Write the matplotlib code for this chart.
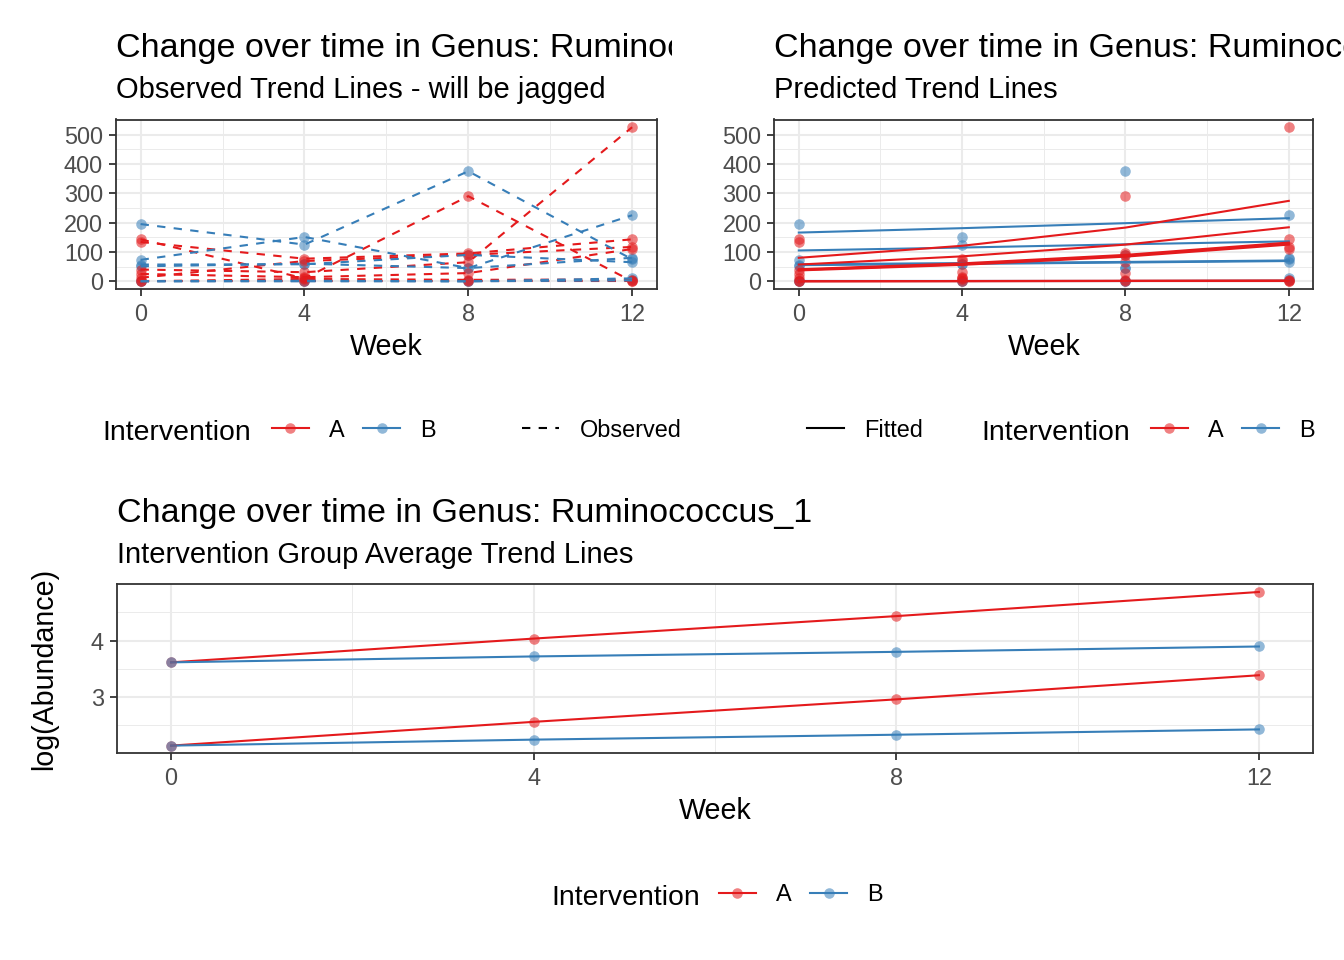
import matplotlib
matplotlib.use('Agg')
import matplotlib.pyplot as plt
from matplotlib.lines import Line2D
from matplotlib.colors import to_rgba
from matplotlib.transforms import Bbox, TransformedBbox

plt.rcParams['font.family'] = ['Liberation Sans', 'DejaVu Sans']

# ---------------- data ----------------
weeks = [0, 4, 8, 12]

# observed abundance per subject (weeks 0, 4, 8, 12)
obs_A = [
    [134, 77, 95, 143],
    [143, 10, 290, 0],
    [40, 31, 65, 525],
    [25, 14, 28, 110],
    [12, 69, 90, 117],
    [0, 8, 5, 6],
    [0, 0, 0, 0],
]
obs_B = [
    [195, 125, 375, 75],
    [73, 151, 45, 225],
    [57, 58, 90, 65],
    [51, 60, 45, 80],
    [0, 0, 0, 10],
    [0, 2, 0, 3],
]

# fitted (predicted) trend per subject
fit_A = [
    [80, 121, 183, 274],
    [57, 85, 125, 184],
    [41, 61, 90, 132],
    [39, 58, 87, 129],
    [37, 56, 84, 125],
    [0, 1, 2, 3],
    [0, 0, 1, 1],
]
fit_B = [
    [166, 181, 198, 215],
    [105, 115, 126, 136],
    [58, 62, 66, 71],
    [55, 59, 64, 69],
    [1, 1, 1, 2],
    [0, 0, 0, 0],
]

# group average trend lines (log abundance)
avg_A_high = [3.614, 4.035, 4.433, 4.860]
avg_B_high = [3.614, 3.719, 3.800, 3.895]
avg_A_low = [2.140, 2.561, 2.959, 3.386]
avg_B_low = [2.140, 2.246, 2.333, 2.427]

groups = ['A', 'B']
title_text = 'Change over time in Genus: Ruminococcus_1'
subtitles = ['Observed Trend Lines - will be jagged', 'Predicted Trend Lines',
             'Intervention Group Average Trend Lines']

# ---------------- style ----------------
W, H = 1344, 960
RED = '#E41A1C'
BLUE = '#377EB8'
PT_ALPHA = 0.55
LW = 1.5
MS = 7.6

fig = plt.figure(figsize=(W / 100, H / 100), dpi=100)


def px_axes(l, t, r, b):
    return fig.add_axes([l / W, 1 - b / H, (r - l) / W, (b - t) / H])


def style(ax, yticks, yminor):
    ax.set_xlim(-0.6, 12.6)
    ax.set_xticks(weeks)
    ax.set_xticks([2, 6, 10], minor=True)
    ax.set_yticks(yticks)
    ax.set_yticks(yminor, minor=True)
    ax.grid(True, which='major', color='#EBEBEB', lw=1.45)
    ax.grid(True, which='minor', color='#EBEBEB', lw=0.72)
    ax.set_axisbelow(True)
    for s in ax.spines.values():
        s.set_color('#333333')
        s.set_linewidth(1.3)
    ax.tick_params(which='major', direction='out', length=5.3, width=1.3,
                   color='#333333', labelcolor='#4D4D4D', labelsize=16.9)
    ax.tick_params(axis='x', which='major', pad=4.5)
    ax.tick_params(axis='y', which='major', pad=4.0)
    ax.tick_params(which='minor', length=0)
    ax.set_xlabel('Week', fontsize=20.6, labelpad=5.0)


def titles(x_px, top_px, sub, clip_right=None):
    t1 = fig.text(x_px / W, 1 - (top_px - 62.5) / H, title_text, fontsize=24.5,
                  ha='left', va='baseline', color='black')
    t2 = fig.text(x_px / W, 1 - (top_px - 21.0) / H, sub, fontsize=21.0,
                  ha='left', va='baseline', color='black')
    if clip_right is not None:
        box = TransformedBbox(Bbox([[0, 0], [clip_right / W, 1]]), fig.transFigure)
        for t in (t1, t2):
            t.set_clip_box(box)
            t.set_clip_on(True)


def key(color, kind='point'):
    if kind == 'point':
        return Line2D([], [], color=color, lw=LW, marker='o', ms=MS,
                      mfc=to_rgba(color, PT_ALPHA), mew=0)
    if kind == 'dashed':
        return Line2D([], [], color=color, lw=LW, dashes=(4, 4))
    return Line2D([], [], color=color, lw=LW)


def legend_at(handles, labels, x_px, y_px):
    leg = fig.legend(handles, labels, loc='center left',
                     bbox_to_anchor=(x_px / W, 1 - y_px / H),
                     bbox_transform=fig.transFigure, ncol=len(handles),
                     frameon=False, borderpad=0, borderaxespad=0,
                     handlelength=1.575, handletextpad=0.87, columnspacing=0.77,
                     fontsize=16.9, numpoints=1)
    return leg


def legend_title(x_px, y_px):
    fig.text(x_px / W, 1 - (y_px + 10.2) / H, 'Intervention', fontsize=20.4,
             ha='left', va='baseline', color='black')


# ---------------- top-left: observed ----------------
axTL = px_axes(116, 119.5, 656.7, 289)
for row in obs_B:
    axTL.plot(weeks, row, 'o', color=BLUE, alpha=PT_ALPHA, ms=MS, mew=0)
for row in obs_A:
    axTL.plot(weeks, row, 'o', color=RED, alpha=PT_ALPHA, ms=MS, mew=0)
for row in obs_A:
    axTL.plot(weeks, row, color=RED, lw=LW, dashes=(4, 4))
for row in obs_B:
    axTL.plot(weeks, row, color=BLUE, lw=LW, dashes=(4, 4))
style(axTL, [0, 100, 200, 300, 400, 500], [50, 150, 250, 350, 450])
titles(116, 119.5, subtitles[0], clip_right=672)

# ---------------- top-right: predicted ----------------
axTR = px_axes(774.3, 119.5, 1313.3, 289)
for row in obs_B:
    axTR.plot(weeks, row, 'o', color=BLUE, alpha=PT_ALPHA, ms=MS, mew=0)
for row in obs_A:
    axTR.plot(weeks, row, 'o', color=RED, alpha=PT_ALPHA, ms=MS, mew=0)
for row in fit_B:
    axTR.plot(weeks, row, color=BLUE, lw=LW)
for row in fit_A:
    axTR.plot(weeks, row, color=RED, lw=LW)
style(axTR, [0, 100, 200, 300, 400, 500], [50, 150, 250, 350, 450])
titles(774.3, 119.5, subtitles[1])

# ---------------- bottom: group averages ----------------
axB = px_axes(116.7, 584.3, 1313.3, 753.3)
series = [(avg_A_high, RED), (avg_B_high, BLUE), (avg_A_low, RED), (avg_B_low, BLUE)]
for vals, col in series:
    axB.plot(weeks, vals, color=col, lw=LW)
for vals, col in series:
    axB.plot(weeks, vals, 'o', color=col, alpha=PT_ALPHA, ms=MS, mew=0)
style(axB, [3, 4], [2.5, 3.5, 4.5])
axB.set_ylabel('log(Abundance)', fontsize=20.6)
axB.yaxis.set_label_coords((58.5 - 116.7) / (1313.3 - 116.7), 0.5)
titles(116.7, 584.3, subtitles[2])

# ---------------- legends ----------------
legend_title(102, 429.5)
legend_at([key(RED), key(BLUE)], groups, 272, 430)
legend_at([key('black', 'dashed')], ['Observed'], 522, 430)
legend_at([key('black', 'solid')], ['Fitted'], 807, 430)
legend_title(981, 429.5)
legend_at([key(RED), key(BLUE)], groups, 1151, 430)
legend_title(551.7, 895)
legend_at([key(RED), key(BLUE)], groups, 719, 894.5)

fig.savefig('out.png', dpi=100, facecolor='white')
